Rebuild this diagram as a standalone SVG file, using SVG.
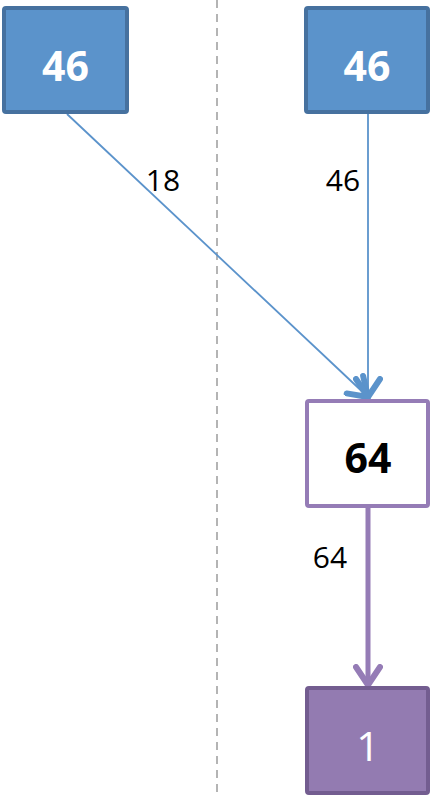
<svg xmlns="http://www.w3.org/2000/svg" width="431" height="797" viewBox="0 0 431 797">
<style>
.blue{fill:#5b93cb;stroke:#46719f;stroke-width:4}
.white{fill:#ffffff;stroke:#957cb6;stroke-width:4}
.purple{fill:#937bb1;stroke:#735d90;stroke-width:4}
.nt{font-family:"Open Sans","Liberation Sans",sans-serif;font-size:41px;text-anchor:middle}
.lbl{font-family:"Open Sans","Liberation Sans",sans-serif;font-size:30px;fill:#000;text-anchor:middle}
</style>
<defs>
<marker id="ab" markerUnits="userSpaceOnUse" markerWidth="30" markerHeight="30" refX="14" refY="10" orient="auto" viewBox="0 0 20 20">
<path d="M2,2 L14,10 L2,18" fill="none" stroke="#5b93cb" stroke-width="4" stroke-linecap="round" stroke-linejoin="round"/>
</marker>
<marker id="ap" markerUnits="userSpaceOnUse" markerWidth="30" markerHeight="30" refX="14" refY="10" orient="auto" viewBox="0 0 20 20">
<path d="M2,2 L14,10 L2,18" fill="none" stroke="#957cb6" stroke-width="4" stroke-linecap="round" stroke-linejoin="round"/>
</marker>
</defs>
<line x1="217" y1="0" x2="217" y2="797" stroke="#b4b4b4" stroke-width="2" stroke-dasharray="8,6"/>
<g id="connectors">
<line x1="67" y1="114" x2="368" y2="397" stroke="#5b93cb" stroke-width="1.8" marker-end="url(#ab)"/>
<line x1="368" y1="114" x2="368" y2="397" stroke="#5b93cb" stroke-width="1.8" marker-end="url(#ab)"/>
<line x1="368" y1="508" x2="368" y2="685" stroke="#957cb6" stroke-width="5" marker-end="url(#ap)"/>
<text class="lbl" x="163" y="191">18</text>
<text class="lbl" x="343" y="191">46</text>
<text class="lbl" x="330" y="568">64</text>
</g>
<g id="n1">
<rect class="blue" x="4" y="8" width="123" height="104" rx="2"/>
<text class="nt" x="65.5" y="81" fill="#fff" font-weight="bold">46</text>
</g>
<g id="n2">
<rect class="blue" x="306" y="8" width="122" height="104" rx="2"/>
<text class="nt" x="367" y="81" fill="#fff" font-weight="bold">46</text>
</g>
<g id="n3">
<rect class="white" x="307" y="401" width="121" height="105" rx="2"/>
<text class="nt" x="368" y="473" fill="#000" font-weight="bold">64</text>
</g>
<g id="n4">
<rect class="purple" x="307" y="688" width="121" height="105" rx="2"/>
<text class="nt" x="368" y="761" fill="#fff">1</text>
</g>
</svg>
